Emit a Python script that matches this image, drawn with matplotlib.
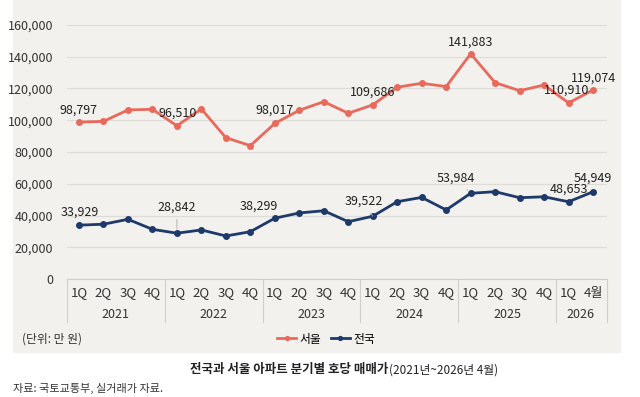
import numpy as np
import matplotlib.pyplot as plt
from matplotlib.patches import Rectangle

# data (단위: 만 원)
quarters = ['1Q', '2Q', '3Q', '4Q'] * 5 + ['1Q', '4월']
years = ['2021', '2022', '2023', '2024', '2025', '2026']
year_sizes = [4, 4, 4, 4, 4, 2]
seoul = [98797, 99300, 106500, 106900, 96510, 107100, 89000, 84000, 98017, 106300, 111700,
         104400, 109686, 120800, 123300, 121200, 141883, 123700, 118600, 122200, 110910, 119074]
nation = [33929, 34500, 37600, 31300, 28842, 30900, 27100, 29800, 38299, 41600, 43000,
          36100, 39522, 48700, 51400, 43500, 53984, 55000, 51200, 51800, 48653, 54949]
label_idx = [0, 4, 8, 12, 16, 20, 21]

RED = '#e9695b'
NAVY = '#1d3a6b'
NUM = ['Liberation Sans Narrow', 'Noto Sans CJK KR', 'DejaVu Sans']
KR = ['Noto Sans CJK KR', 'DejaVu Sans']

plt.rcParams['font.family'] = NUM

fig = plt.figure(figsize=(6.4, 3.97), dpi=100)
W, H = 640, 397
# light panel behind the chart
fig.patches.append(Rectangle((13 / W, 1 - 352 / H), 607 / W, 352 / H,
                             transform=fig.transFigure, color='#f2f1ee', zorder=-5))

ax = fig.add_axes([67 / W, 1 - 279 / H, 540 / W, 254 / H])
ax.set_facecolor('none')
x = np.arange(len(quarters))
ax.set_xlim(-0.49, 21.57)
ax.set_ylim(0, 160000)
ax.set_yticks(np.arange(0, 160001, 20000))
ax.set_yticklabels([f'{v:,}' for v in range(0, 160001, 20000)], fontsize=9, color='#333333')
ax.tick_params(axis='y', length=0, pad=10)
ax.set_xticks([])
ax.grid(axis='y', color='#dddcd8', lw=0.8)
for s in ['top', 'right', 'left']:
    ax.spines[s].set_visible(False)
ax.spines['bottom'].set_color('#d0cfcb')
ax.set_axisbelow(True)

ax.plot(x, seoul, color=RED, lw=2, marker='o', ms=4, label='서울', zorder=3)
ax.plot(x, nation, color=NAVY, lw=2, marker='o', ms=4, label='전국', zorder=3)

# value labels: offsets in pixels
s_off = [(0, 12), (1, 13), (0, 13), (0, 13), (0, 12), (-2, 13), (0, 12)]
n_off = [(1, 13), (0, 26), (-16, 12), (-9, 15), (-15, 15), (0, 13), (0, 14)]
leader = [False, True, False, True, True, False, False]
for i, (dx, dy) in zip(label_idx, s_off):
    ax.annotate(f'{seoul[i]:,}', (x[i], seoul[i]), xytext=(dx, dy), textcoords='offset pixels',
                ha='center', va='center', fontsize=9, color='#222222', annotation_clip=False)
for i, (dx, dy), ld in zip(label_idx, n_off, leader):
    ap = dict(arrowstyle='-', color='#aaaaaa', lw=0.6, shrinkA=2, shrinkB=3) if ld else None
    ax.annotate(f'{nation[i]:,}', (x[i], nation[i]), xytext=(dx, dy), textcoords='offset pixels',
                ha='center', va='center', fontsize=9, color='#222222', arrowprops=ap,
                annotation_clip=False)

# category axis (quarters + years)
tr = ax.get_xaxis_transform()
for xi, q in zip(x, quarters):
    ax.text(xi, -14 / 254, q, transform=tr, ha='center', va='center', fontsize=9.5,
            color='#333333', family=NUM)
start = 0
bounds = [-0.49]
for yr, n in zip(years, year_sizes):
    ax.text(start + (n - 1) / 2, -36 / 254, yr, transform=tr, ha='center', va='center',
            fontsize=9, color='#333333')
    start += n
    bounds.append(start - 0.5)
bounds[-1] = 21.57
for b in bounds:
    ax.plot([b, b], [0, -43 / 254], transform=tr, color='#d0cfcb', lw=0.8, clip_on=False)

ax.legend(loc='center', bbox_to_anchor=(326 / W, 1 - 339 / H), bbox_transform=fig.transFigure,
          ncol=2, frameon=False, prop={'family': KR, 'size': 8.5},
          handlelength=1.6, handletextpad=0.3, columnspacing=0.8, markerscale=0.7)

fig.text(22 / W, 1 - 339 / H, '(단위: 만 원)', fontsize=8.5, va='center', family=KR, color='#333333')
fig.text(388 / W, 1 - 370 / H, '전국과 서울 아파트 분기별 호당 매매가', fontsize=9, va='center',
         ha='right', family=KR, weight='bold', color='#222222')
fig.text(389 / W, 1 - 370 / H, '(2021년~2026년 4월)', fontsize=8.5, va='center', ha='left',
         family=KR, color='#222222')
fig.text(13 / W, 1 - 388 / H, '자료: 국토교통부, 실거래가 자료.', fontsize=8, va='center',
         family=KR, color='#333333')

fig.savefig('out.png', dpi=100, facecolor='white')
